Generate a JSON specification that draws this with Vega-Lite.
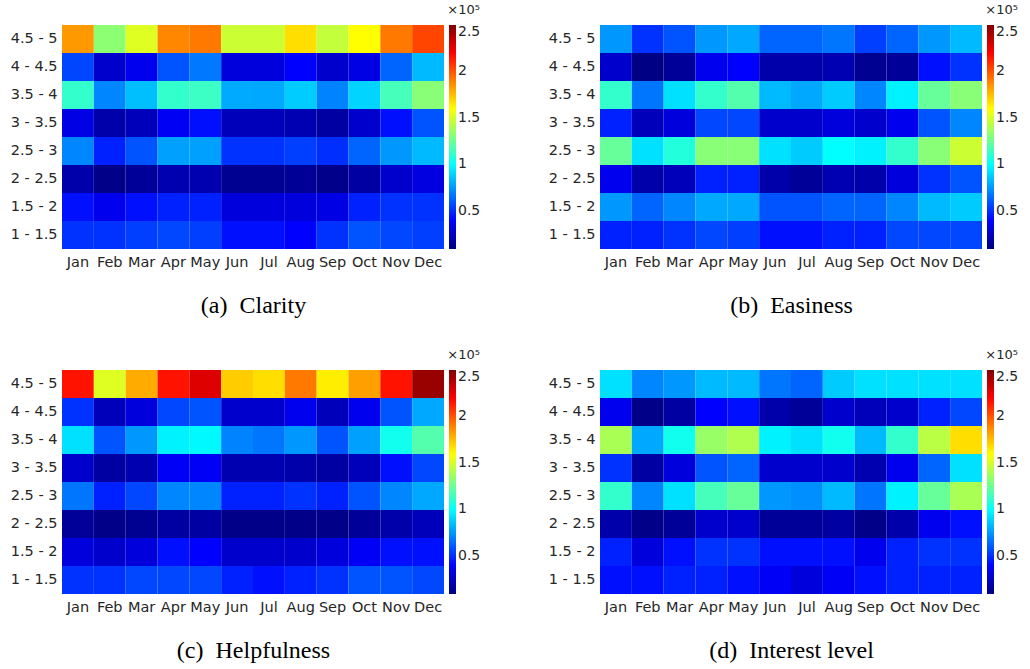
{
"$schema": "https://vega.github.io/schema/vega-lite/v6.json",
"padding": {"left": 10, "top": 4, "right": 0, "bottom": 0},
"background": "white",
"datasets": {
"a": [
{"r":"4.5 - 5","m":"Jan","v":183700},{"r":"4.5 - 5","m":"Feb","v":132500},{"r":"4.5 - 5","m":"Mar","v":151800},{"r":"4.5 - 5","m":"Apr","v":188000},{"r":"4.5 - 5","m":"May","v":191600},{"r":"4.5 - 5","m":"Jun","v":147600},{"r":"4.5 - 5","m":"Jul","v":147600},{"r":"4.5 - 5","m":"Aug","v":167500},{"r":"4.5 - 5","m":"Sep","v":145800},{"r":"4.5 - 5","m":"Oct","v":159600},{"r":"4.5 - 5","m":"Nov","v":191600},{"r":"4.5 - 5","m":"Dec","v":203600},
{"r":"4 - 4.5","m":"Jan","v":55400},{"r":"4 - 4.5","m":"Feb","v":27000},{"r":"4 - 4.5","m":"Mar","v":35000},{"r":"4 - 4.5","m":"Apr","v":59000},{"r":"4 - 4.5","m":"May","v":67400},{"r":"4 - 4.5","m":"Jun","v":31000},{"r":"4 - 4.5","m":"Jul","v":31000},{"r":"4 - 4.5","m":"Aug","v":39000},{"r":"4 - 4.5","m":"Sep","v":27000},{"r":"4 - 4.5","m":"Oct","v":33000},{"r":"4 - 4.5","m":"Nov","v":63000},{"r":"4 - 4.5","m":"Dec","v":83000},
{"r":"3.5 - 4","m":"Jan","v":111400},{"r":"3.5 - 4","m":"Feb","v":71000},{"r":"3.5 - 4","m":"Mar","v":84300},{"r":"3.5 - 4","m":"Apr","v":111400},{"r":"3.5 - 4","m":"May","v":113400},{"r":"3.5 - 4","m":"Jun","v":79400},{"r":"3.5 - 4","m":"Jul","v":79000},{"r":"3.5 - 4","m":"Aug","v":87300},{"r":"3.5 - 4","m":"Sep","v":70000},{"r":"3.5 - 4","m":"Oct","v":89100},{"r":"3.5 - 4","m":"Nov","v":115600},{"r":"3.5 - 4","m":"Dec","v":131500},
{"r":"3 - 3.5","m":"Jan","v":33000},{"r":"3 - 3.5","m":"Feb","v":19000},{"r":"3 - 3.5","m":"Mar","v":23000},{"r":"3 - 3.5","m":"Apr","v":36500},{"r":"3 - 3.5","m":"May","v":43000},{"r":"3 - 3.5","m":"Jun","v":23000},{"r":"3 - 3.5","m":"Jul","v":23000},{"r":"3 - 3.5","m":"Aug","v":21000},{"r":"3 - 3.5","m":"Sep","v":17000},{"r":"3 - 3.5","m":"Oct","v":27000},{"r":"3 - 3.5","m":"Nov","v":43000},{"r":"3 - 3.5","m":"Dec","v":59000},
{"r":"2.5 - 3","m":"Jan","v":71000},{"r":"2.5 - 3","m":"Feb","v":47000},{"r":"2.5 - 3","m":"Mar","v":59000},{"r":"2.5 - 3","m":"Apr","v":77000},{"r":"2.5 - 3","m":"May","v":77000},{"r":"2.5 - 3","m":"Jun","v":51000},{"r":"2.5 - 3","m":"Jul","v":51000},{"r":"2.5 - 3","m":"Aug","v":54000},{"r":"2.5 - 3","m":"Sep","v":50000},{"r":"2.5 - 3","m":"Oct","v":63000},{"r":"2.5 - 3","m":"Nov","v":75000},{"r":"2.5 - 3","m":"Dec","v":83000},
{"r":"2 - 2.5","m":"Jan","v":19000},{"r":"2 - 2.5","m":"Feb","v":11000},{"r":"2 - 2.5","m":"Mar","v":15000},{"r":"2 - 2.5","m":"Apr","v":20500},{"r":"2 - 2.5","m":"May","v":20500},{"r":"2 - 2.5","m":"Jun","v":13000},{"r":"2 - 2.5","m":"Jul","v":13000},{"r":"2 - 2.5","m":"Aug","v":14500},{"r":"2 - 2.5","m":"Sep","v":11500},{"r":"2 - 2.5","m":"Oct","v":17000},{"r":"2 - 2.5","m":"Nov","v":27000},{"r":"2 - 2.5","m":"Dec","v":32000},
{"r":"1.5 - 2","m":"Jan","v":43000},{"r":"1.5 - 2","m":"Feb","v":35000},{"r":"1.5 - 2","m":"Mar","v":43000},{"r":"1.5 - 2","m":"Apr","v":47000},{"r":"1.5 - 2","m":"May","v":47000},{"r":"1.5 - 2","m":"Jun","v":31000},{"r":"1.5 - 2","m":"Jul","v":31000},{"r":"1.5 - 2","m":"Aug","v":31000},{"r":"1.5 - 2","m":"Sep","v":33000},{"r":"1.5 - 2","m":"Oct","v":47000},{"r":"1.5 - 2","m":"Nov","v":51000},{"r":"1.5 - 2","m":"Dec","v":51000},
{"r":"1 - 1.5","m":"Jan","v":51000},{"r":"1 - 1.5","m":"Feb","v":51000},{"r":"1 - 1.5","m":"Mar","v":54000},{"r":"1 - 1.5","m":"Apr","v":56000},{"r":"1 - 1.5","m":"May","v":54000},{"r":"1 - 1.5","m":"Jun","v":43000},{"r":"1 - 1.5","m":"Jul","v":43000},{"r":"1 - 1.5","m":"Aug","v":39000},{"r":"1 - 1.5","m":"Sep","v":51000},{"r":"1 - 1.5","m":"Oct","v":59000},{"r":"1 - 1.5","m":"Nov","v":56000},{"r":"1 - 1.5","m":"Dec","v":54000}
],
"b": [
{"r":"4.5 - 5","m":"Jan","v":75000},{"r":"4.5 - 5","m":"Feb","v":51000},{"r":"4.5 - 5","m":"Mar","v":59000},{"r":"4.5 - 5","m":"Apr","v":75000},{"r":"4.5 - 5","m":"May","v":79000},{"r":"4.5 - 5","m":"Jun","v":63000},{"r":"4.5 - 5","m":"Jul","v":63000},{"r":"4.5 - 5","m":"Aug","v":67000},{"r":"4.5 - 5","m":"Sep","v":54000},{"r":"4.5 - 5","m":"Oct","v":63000},{"r":"4.5 - 5","m":"Nov","v":75000},{"r":"4.5 - 5","m":"Dec","v":83000},
{"r":"4 - 4.5","m":"Jan","v":27000},{"r":"4 - 4.5","m":"Feb","v":10000},{"r":"4 - 4.5","m":"Mar","v":15000},{"r":"4 - 4.5","m":"Apr","v":35000},{"r":"4 - 4.5","m":"May","v":39000},{"r":"4 - 4.5","m":"Jun","v":19000},{"r":"4 - 4.5","m":"Jul","v":19000},{"r":"4 - 4.5","m":"Aug","v":20500},{"r":"4 - 4.5","m":"Sep","v":13000},{"r":"4 - 4.5","m":"Oct","v":15000},{"r":"4 - 4.5","m":"Nov","v":43000},{"r":"4 - 4.5","m":"Dec","v":51000},
{"r":"3.5 - 4","m":"Jan","v":111400},{"r":"3.5 - 4","m":"Feb","v":67000},{"r":"3.5 - 4","m":"Mar","v":92000},{"r":"3.5 - 4","m":"Apr","v":111400},{"r":"3.5 - 4","m":"May","v":119000},{"r":"3.5 - 4","m":"Jun","v":83000},{"r":"3.5 - 4","m":"Jul","v":79000},{"r":"3.5 - 4","m":"Aug","v":87000},{"r":"3.5 - 4","m":"Sep","v":71000},{"r":"3.5 - 4","m":"Oct","v":96000},{"r":"3.5 - 4","m":"Nov","v":123500},{"r":"3.5 - 4","m":"Dec","v":131500},
{"r":"3 - 3.5","m":"Jan","v":47000},{"r":"3 - 3.5","m":"Feb","v":23000},{"r":"3 - 3.5","m":"Mar","v":31000},{"r":"3 - 3.5","m":"Apr","v":56000},{"r":"3 - 3.5","m":"May","v":56000},{"r":"3 - 3.5","m":"Jun","v":27000},{"r":"3 - 3.5","m":"Jul","v":27000},{"r":"3 - 3.5","m":"Aug","v":31000},{"r":"3 - 3.5","m":"Sep","v":27000},{"r":"3 - 3.5","m":"Oct","v":35000},{"r":"3 - 3.5","m":"Nov","v":59000},{"r":"3 - 3.5","m":"Dec","v":71000},
{"r":"2.5 - 3","m":"Jan","v":123500},{"r":"2.5 - 3","m":"Feb","v":92000},{"r":"2.5 - 3","m":"Mar","v":107400},{"r":"2.5 - 3","m":"Apr","v":131500},{"r":"2.5 - 3","m":"May","v":131500},{"r":"2.5 - 3","m":"Jun","v":92000},{"r":"2.5 - 3","m":"Jul","v":87000},{"r":"2.5 - 3","m":"Aug","v":99400},{"r":"2.5 - 3","m":"Sep","v":96000},{"r":"2.5 - 3","m":"Oct","v":111400},{"r":"2.5 - 3","m":"Nov","v":131500},{"r":"2.5 - 3","m":"Dec","v":147600},
{"r":"2 - 2.5","m":"Jan","v":35000},{"r":"2 - 2.5","m":"Feb","v":19000},{"r":"2 - 2.5","m":"Mar","v":23000},{"r":"2 - 2.5","m":"Apr","v":47000},{"r":"2 - 2.5","m":"May","v":47000},{"r":"2 - 2.5","m":"Jun","v":19000},{"r":"2 - 2.5","m":"Jul","v":15000},{"r":"2 - 2.5","m":"Aug","v":20500},{"r":"2 - 2.5","m":"Sep","v":19000},{"r":"2 - 2.5","m":"Oct","v":31000},{"r":"2 - 2.5","m":"Nov","v":51000},{"r":"2 - 2.5","m":"Dec","v":59000},
{"r":"1.5 - 2","m":"Jan","v":75000},{"r":"1.5 - 2","m":"Feb","v":63000},{"r":"1.5 - 2","m":"Mar","v":71000},{"r":"1.5 - 2","m":"Apr","v":79000},{"r":"1.5 - 2","m":"May","v":79000},{"r":"1.5 - 2","m":"Jun","v":59000},{"r":"1.5 - 2","m":"Jul","v":59000},{"r":"1.5 - 2","m":"Aug","v":63000},{"r":"1.5 - 2","m":"Sep","v":63000},{"r":"1.5 - 2","m":"Oct","v":71000},{"r":"1.5 - 2","m":"Nov","v":83000},{"r":"1.5 - 2","m":"Dec","v":87000},
{"r":"1 - 1.5","m":"Jan","v":47000},{"r":"1 - 1.5","m":"Feb","v":47000},{"r":"1 - 1.5","m":"Mar","v":51000},{"r":"1 - 1.5","m":"Apr","v":56000},{"r":"1 - 1.5","m":"May","v":54000},{"r":"1 - 1.5","m":"Jun","v":43000},{"r":"1 - 1.5","m":"Jul","v":43000},{"r":"1 - 1.5","m":"Aug","v":47000},{"r":"1 - 1.5","m":"Sep","v":47000},{"r":"1 - 1.5","m":"Oct","v":56000},{"r":"1 - 1.5","m":"Nov","v":56000},{"r":"1 - 1.5","m":"Dec","v":56000}
],
"c": [
{"r":"4.5 - 5","m":"Jan","v":215700},{"r":"4.5 - 5","m":"Feb","v":151800},{"r":"4.5 - 5","m":"Mar","v":179500},{"r":"4.5 - 5","m":"Apr","v":215700},{"r":"4.5 - 5","m":"May","v":227700},{"r":"4.5 - 5","m":"Jun","v":171700},{"r":"4.5 - 5","m":"Jul","v":167500},{"r":"4.5 - 5","m":"Aug","v":191600},{"r":"4.5 - 5","m":"Sep","v":163600},{"r":"4.5 - 5","m":"Oct","v":182000},{"r":"4.5 - 5","m":"Nov","v":215700},{"r":"4.5 - 5","m":"Dec","v":244000},
{"r":"4 - 4.5","m":"Jan","v":51000},{"r":"4 - 4.5","m":"Feb","v":23000},{"r":"4 - 4.5","m":"Mar","v":31000},{"r":"4 - 4.5","m":"Apr","v":56000},{"r":"4 - 4.5","m":"May","v":59000},{"r":"4 - 4.5","m":"Jun","v":27000},{"r":"4 - 4.5","m":"Jul","v":27000},{"r":"4 - 4.5","m":"Aug","v":35000},{"r":"4 - 4.5","m":"Sep","v":23000},{"r":"4 - 4.5","m":"Oct","v":35000},{"r":"4 - 4.5","m":"Nov","v":59000},{"r":"4 - 4.5","m":"Dec","v":79000},
{"r":"3.5 - 4","m":"Jan","v":92000},{"r":"3.5 - 4","m":"Feb","v":59000},{"r":"3.5 - 4","m":"Mar","v":75000},{"r":"3.5 - 4","m":"Apr","v":96000},{"r":"3.5 - 4","m":"May","v":98000},{"r":"3.5 - 4","m":"Jun","v":70000},{"r":"3.5 - 4","m":"Jul","v":67000},{"r":"3.5 - 4","m":"Aug","v":75000},{"r":"3.5 - 4","m":"Sep","v":59000},{"r":"3.5 - 4","m":"Oct","v":77000},{"r":"3.5 - 4","m":"Nov","v":103500},{"r":"3.5 - 4","m":"Dec","v":119000},
{"r":"3 - 3.5","m":"Jan","v":27000},{"r":"3 - 3.5","m":"Feb","v":17000},{"r":"3 - 3.5","m":"Mar","v":20500},{"r":"3 - 3.5","m":"Apr","v":37000},{"r":"3 - 3.5","m":"May","v":37000},{"r":"3 - 3.5","m":"Jun","v":20500},{"r":"3 - 3.5","m":"Jul","v":20500},{"r":"3 - 3.5","m":"Aug","v":19000},{"r":"3 - 3.5","m":"Sep","v":17000},{"r":"3 - 3.5","m":"Oct","v":23000},{"r":"3 - 3.5","m":"Nov","v":43000},{"r":"3 - 3.5","m":"Dec","v":56000},
{"r":"2.5 - 3","m":"Jan","v":67000},{"r":"2.5 - 3","m":"Feb","v":47000},{"r":"2.5 - 3","m":"Mar","v":56000},{"r":"2.5 - 3","m":"Apr","v":71000},{"r":"2.5 - 3","m":"May","v":71000},{"r":"2.5 - 3","m":"Jun","v":47000},{"r":"2.5 - 3","m":"Jul","v":47000},{"r":"2.5 - 3","m":"Aug","v":51000},{"r":"2.5 - 3","m":"Sep","v":47000},{"r":"2.5 - 3","m":"Oct","v":59000},{"r":"2.5 - 3","m":"Nov","v":71000},{"r":"2.5 - 3","m":"Dec","v":79000},
{"r":"2 - 2.5","m":"Jan","v":15000},{"r":"2 - 2.5","m":"Feb","v":11000},{"r":"2 - 2.5","m":"Mar","v":13000},{"r":"2 - 2.5","m":"Apr","v":17000},{"r":"2 - 2.5","m":"May","v":17000},{"r":"2 - 2.5","m":"Jun","v":11000},{"r":"2 - 2.5","m":"Jul","v":11000},{"r":"2 - 2.5","m":"Aug","v":11000},{"r":"2 - 2.5","m":"Sep","v":11000},{"r":"2 - 2.5","m":"Oct","v":15000},{"r":"2 - 2.5","m":"Nov","v":19000},{"r":"2 - 2.5","m":"Dec","v":23000},
{"r":"1.5 - 2","m":"Jan","v":31000},{"r":"1.5 - 2","m":"Feb","v":27000},{"r":"1.5 - 2","m":"Mar","v":31000},{"r":"1.5 - 2","m":"Apr","v":43000},{"r":"1.5 - 2","m":"May","v":39000},{"r":"1.5 - 2","m":"Jun","v":27000},{"r":"1.5 - 2","m":"Jul","v":27000},{"r":"1.5 - 2","m":"Aug","v":27000},{"r":"1.5 - 2","m":"Sep","v":31000},{"r":"1.5 - 2","m":"Oct","v":37000},{"r":"1.5 - 2","m":"Nov","v":43000},{"r":"1.5 - 2","m":"Dec","v":43000},
{"r":"1 - 1.5","m":"Jan","v":51000},{"r":"1 - 1.5","m":"Feb","v":51000},{"r":"1 - 1.5","m":"Mar","v":56000},{"r":"1 - 1.5","m":"Apr","v":56000},{"r":"1 - 1.5","m":"May","v":56000},{"r":"1 - 1.5","m":"Jun","v":47000},{"r":"1 - 1.5","m":"Jul","v":43000},{"r":"1 - 1.5","m":"Aug","v":47000},{"r":"1 - 1.5","m":"Sep","v":51000},{"r":"1 - 1.5","m":"Oct","v":59000},{"r":"1 - 1.5","m":"Nov","v":59000},{"r":"1 - 1.5","m":"Dec","v":56000}
],
"d": [
{"r":"4.5 - 5","m":"Jan","v":92000},{"r":"4.5 - 5","m":"Feb","v":71000},{"r":"4.5 - 5","m":"Mar","v":75000},{"r":"4.5 - 5","m":"Apr","v":83000},{"r":"4.5 - 5","m":"May","v":83000},{"r":"4.5 - 5","m":"Jun","v":67000},{"r":"4.5 - 5","m":"Jul","v":63000},{"r":"4.5 - 5","m":"Aug","v":87000},{"r":"4.5 - 5","m":"Sep","v":92000},{"r":"4.5 - 5","m":"Oct","v":92000},{"r":"4.5 - 5","m":"Nov","v":92000},{"r":"4.5 - 5","m":"Dec","v":92000},
{"r":"4 - 4.5","m":"Jan","v":35000},{"r":"4 - 4.5","m":"Feb","v":11000},{"r":"4 - 4.5","m":"Mar","v":17000},{"r":"4 - 4.5","m":"Apr","v":39000},{"r":"4 - 4.5","m":"May","v":43000},{"r":"4 - 4.5","m":"Jun","v":19000},{"r":"4 - 4.5","m":"Jul","v":15000},{"r":"4 - 4.5","m":"Aug","v":27000},{"r":"4 - 4.5","m":"Sep","v":23000},{"r":"4 - 4.5","m":"Oct","v":27000},{"r":"4 - 4.5","m":"Nov","v":47000},{"r":"4 - 4.5","m":"Dec","v":56000},
{"r":"3.5 - 4","m":"Jan","v":139500},{"r":"3.5 - 4","m":"Feb","v":79000},{"r":"3.5 - 4","m":"Mar","v":103500},{"r":"3.5 - 4","m":"Apr","v":135500},{"r":"3.5 - 4","m":"May","v":141000},{"r":"3.5 - 4","m":"Jun","v":96000},{"r":"3.5 - 4","m":"Jul","v":92000},{"r":"3.5 - 4","m":"Aug","v":103500},{"r":"3.5 - 4","m":"Sep","v":83000},{"r":"3.5 - 4","m":"Oct","v":111400},{"r":"3.5 - 4","m":"Nov","v":143500},{"r":"3.5 - 4","m":"Dec","v":167500},
{"r":"3 - 3.5","m":"Jan","v":51000},{"r":"3 - 3.5","m":"Feb","v":17000},{"r":"3 - 3.5","m":"Mar","v":31000},{"r":"3 - 3.5","m":"Apr","v":59000},{"r":"3 - 3.5","m":"May","v":63000},{"r":"3 - 3.5","m":"Jun","v":27000},{"r":"3 - 3.5","m":"Jul","v":27000},{"r":"3 - 3.5","m":"Aug","v":27000},{"r":"3 - 3.5","m":"Sep","v":20500},{"r":"3 - 3.5","m":"Oct","v":35000},{"r":"3 - 3.5","m":"Nov","v":63000},{"r":"3 - 3.5","m":"Dec","v":92000},
{"r":"2.5 - 3","m":"Jan","v":111400},{"r":"2.5 - 3","m":"Feb","v":71000},{"r":"2.5 - 3","m":"Mar","v":92000},{"r":"2.5 - 3","m":"Apr","v":115600},{"r":"2.5 - 3","m":"May","v":123500},{"r":"2.5 - 3","m":"Jun","v":75000},{"r":"2.5 - 3","m":"Jul","v":73000},{"r":"2.5 - 3","m":"Aug","v":83000},{"r":"2.5 - 3","m":"Sep","v":67000},{"r":"2.5 - 3","m":"Oct","v":96000},{"r":"2.5 - 3","m":"Nov","v":123500},{"r":"2.5 - 3","m":"Dec","v":139500},
{"r":"2 - 2.5","m":"Jan","v":19000},{"r":"2 - 2.5","m":"Feb","v":11000},{"r":"2 - 2.5","m":"Mar","v":15000},{"r":"2 - 2.5","m":"Apr","v":27000},{"r":"2 - 2.5","m":"May","v":27000},{"r":"2 - 2.5","m":"Jun","v":15000},{"r":"2 - 2.5","m":"Jul","v":15000},{"r":"2 - 2.5","m":"Aug","v":17000},{"r":"2 - 2.5","m":"Sep","v":11000},{"r":"2 - 2.5","m":"Oct","v":19000},{"r":"2 - 2.5","m":"Nov","v":35000},{"r":"2 - 2.5","m":"Dec","v":43000},
{"r":"1.5 - 2","m":"Jan","v":47000},{"r":"1.5 - 2","m":"Feb","v":31000},{"r":"1.5 - 2","m":"Mar","v":43000},{"r":"1.5 - 2","m":"Apr","v":51000},{"r":"1.5 - 2","m":"May","v":51000},{"r":"1.5 - 2","m":"Jun","v":43000},{"r":"1.5 - 2","m":"Jul","v":43000},{"r":"1.5 - 2","m":"Aug","v":43000},{"r":"1.5 - 2","m":"Sep","v":35000},{"r":"1.5 - 2","m":"Oct","v":47000},{"r":"1.5 - 2","m":"Nov","v":51000},{"r":"1.5 - 2","m":"Dec","v":51000},
{"r":"1 - 1.5","m":"Jan","v":43000},{"r":"1 - 1.5","m":"Feb","v":43000},{"r":"1 - 1.5","m":"Mar","v":47000},{"r":"1 - 1.5","m":"Apr","v":47000},{"r":"1 - 1.5","m":"May","v":43000},{"r":"1 - 1.5","m":"Jun","v":37000},{"r":"1 - 1.5","m":"Jul","v":31000},{"r":"1 - 1.5","m":"Aug","v":37000},{"r":"1 - 1.5","m":"Sep","v":43000},{"r":"1 - 1.5","m":"Oct","v":47000},{"r":"1 - 1.5","m":"Nov","v":47000},{"r":"1 - 1.5","m":"Dec","v":47000}
]
},
"columns": 2,
"spacing": {"row": 31, "column": 67},
"resolve": {"scale": {"color": "independent"}, "legend": {"color": "independent"}},
"concat": [
{"data": {"name": "a"}, "width": 382, "height": 224, "mark": {"type": "rect"},
 "encoding": {
  "x": {"field": "m", "type": "ordinal", "sort": ["Jan","Feb","Mar","Apr","May","Jun","Jul","Aug","Sep","Oct","Nov","Dec"], "scale": {"paddingInner": 0, "paddingOuter": 0}, "axis": {"title": "(a)\u00a0\u00a0Clarity"}},
  "y": {"field": "r", "type": "ordinal", "sort": ["4.5 - 5","4 - 4.5","3.5 - 4","3 - 3.5","2.5 - 3","2 - 2.5","1.5 - 2","1 - 1.5"], "scale": {"paddingInner": 0, "paddingOuter": 0}, "axis": {"title": null}},
  "color": {"field": "v", "type": "quantitative", "scale": {"type": "linear", "domain": [9000, 39125, 99375, 159625, 219875, 250000], "range": ["#000080", "#0000ff", "#00ffff", "#ffff00", "#ff0000", "#800000"], "interpolate": "rgb"},
   "legend": {"orient": "none", "legendX": 385, "legendY": -21, "title": "×10⁵", "titleAnchor": "end", "direction": "vertical", "gradientLength": 224, "gradientThickness": 7, "values": [50000, 100000, 150000, 200000, 250000], "labelExpr": "format(datum.value/100000, '~g')"}}
 }},
{"data": {"name": "b"}, "width": 382, "height": 224, "mark": {"type": "rect"},
 "encoding": {
  "x": {"field": "m", "type": "ordinal", "sort": ["Jan","Feb","Mar","Apr","May","Jun","Jul","Aug","Sep","Oct","Nov","Dec"], "scale": {"paddingInner": 0, "paddingOuter": 0}, "axis": {"title": "(b)\u00a0\u00a0Easiness"}},
  "y": {"field": "r", "type": "ordinal", "sort": ["4.5 - 5","4 - 4.5","3.5 - 4","3 - 3.5","2.5 - 3","2 - 2.5","1.5 - 2","1 - 1.5"], "scale": {"paddingInner": 0, "paddingOuter": 0}, "axis": {"title": null}},
  "color": {"field": "v", "type": "quantitative", "scale": {"type": "linear", "domain": [9000, 39125, 99375, 159625, 219875, 250000], "range": ["#000080", "#0000ff", "#00ffff", "#ffff00", "#ff0000", "#800000"], "interpolate": "rgb"},
   "legend": {"orient": "none", "legendX": 385, "legendY": -21, "title": "×10⁵", "titleAnchor": "end", "direction": "vertical", "gradientLength": 224, "gradientThickness": 7, "values": [50000, 100000, 150000, 200000, 250000], "labelExpr": "format(datum.value/100000, '~g')"}}
 }},
{"data": {"name": "c"}, "width": 382, "height": 224, "mark": {"type": "rect"},
 "encoding": {
  "x": {"field": "m", "type": "ordinal", "sort": ["Jan","Feb","Mar","Apr","May","Jun","Jul","Aug","Sep","Oct","Nov","Dec"], "scale": {"paddingInner": 0, "paddingOuter": 0}, "axis": {"title": "(c)\u00a0\u00a0Helpfulness"}},
  "y": {"field": "r", "type": "ordinal", "sort": ["4.5 - 5","4 - 4.5","3.5 - 4","3 - 3.5","2.5 - 3","2 - 2.5","1.5 - 2","1 - 1.5"], "scale": {"paddingInner": 0, "paddingOuter": 0}, "axis": {"title": null}},
  "color": {"field": "v", "type": "quantitative", "scale": {"type": "linear", "domain": [9000, 39125, 99375, 159625, 219875, 250000], "range": ["#000080", "#0000ff", "#00ffff", "#ffff00", "#ff0000", "#800000"], "interpolate": "rgb"},
   "legend": {"orient": "none", "legendX": 385, "legendY": -21, "title": "×10⁵", "titleAnchor": "end", "direction": "vertical", "gradientLength": 224, "gradientThickness": 7, "values": [50000, 100000, 150000, 200000, 250000], "labelExpr": "format(datum.value/100000, '~g')"}}
 }},
{"data": {"name": "d"}, "width": 382, "height": 224, "mark": {"type": "rect"},
 "encoding": {
  "x": {"field": "m", "type": "ordinal", "sort": ["Jan","Feb","Mar","Apr","May","Jun","Jul","Aug","Sep","Oct","Nov","Dec"], "scale": {"paddingInner": 0, "paddingOuter": 0}, "axis": {"title": "(d)\u00a0\u00a0Interest level"}},
  "y": {"field": "r", "type": "ordinal", "sort": ["4.5 - 5","4 - 4.5","3.5 - 4","3 - 3.5","2.5 - 3","2 - 2.5","1.5 - 2","1 - 1.5"], "scale": {"paddingInner": 0, "paddingOuter": 0}, "axis": {"title": null}},
  "color": {"field": "v", "type": "quantitative", "scale": {"type": "linear", "domain": [9000, 39125, 99375, 159625, 219875, 250000], "range": ["#000080", "#0000ff", "#00ffff", "#ffff00", "#ff0000", "#800000"], "interpolate": "rgb"},
   "legend": {"orient": "none", "legendX": 385, "legendY": -21, "title": "×10⁵", "titleAnchor": "end", "direction": "vertical", "gradientLength": 224, "gradientThickness": 7, "values": [50000, 100000, 150000, 200000, 250000], "labelExpr": "format(datum.value/100000, '~g')"}}
 }}
],
"config": {
 "view": {"stroke": null},
 "axis": {"domain": false, "ticks": false, "grid": false, "labelFont": "DejaVu Sans", "labelFontSize": 14.5, "labelColor": "#262626", "labelPadding": 5},
 "axisX": {"labelAngle": 0, "labelPadding": 6, "titleFont": "Liberation Serif", "titleFontSize": 24, "titleFontWeight": "normal", "titleColor": "#000000", "titlePadding": 25},
 "legend": {"labelFont": "DejaVu Sans", "labelFontSize": 14, "labelColor": "#262626", "labelOffset": 5, "titleFont": "DejaVu Sans", "titleFontSize": 13, "titleFontWeight": "normal", "titleColor": "#262626", "titlePadding": 8, "padding": 0, "gradientStrokeWidth": 0}
}
}
